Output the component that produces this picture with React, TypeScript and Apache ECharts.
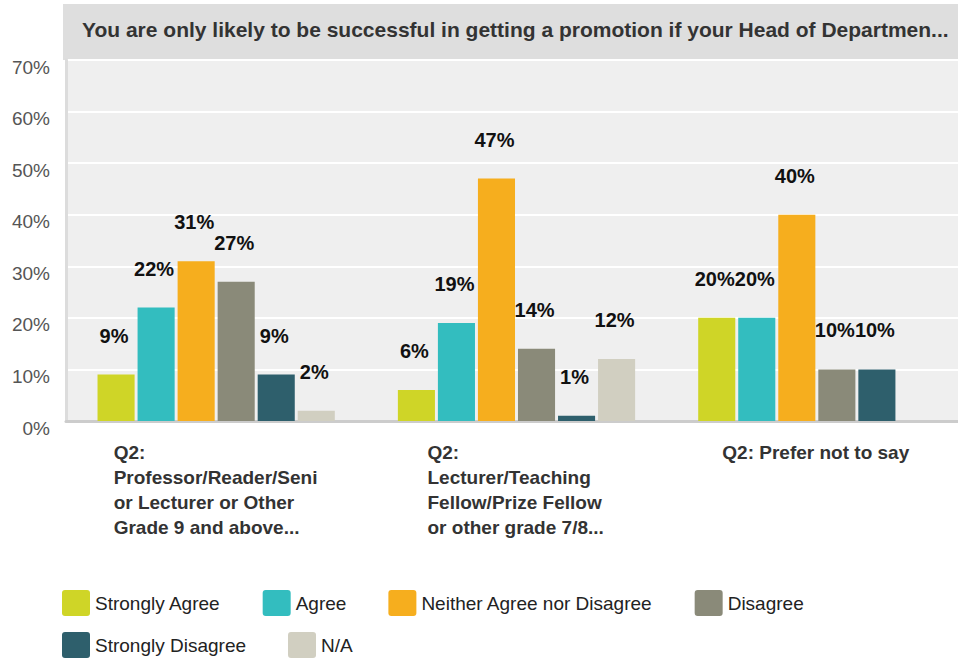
import React, { useEffect, useRef } from "react";
import * as echarts from "echarts";

const titleText =
  "You are only likely to be successful in getting a promotion if your Head of Departmen...";

const categories = [
  "Q2:\nProfessor/Reader/Seni\nor Lecturer or Other\nGrade 9 and above...",
  "Q2:\nLecturer/Teaching\nFellow/Prize Fellow\nor other grade 7/8...",
  "Q2: Prefer not to say",
];

const seriesNames = [
  "Strongly Agree",
  "Agree",
  "Neither Agree nor Disagree",
  "Disagree",
  "Strongly Disagree",
  "N/A",
];

const stronglyAgree = [9, 6, 20];
const agree = [22, 19, 20];
const neither = [31, 47, 40];
const disagree = [27, 14, 10];
const stronglyDisagree = [9, 1, 10];
const notApplicable: (number | null)[] = [2, 12, null];

const yTicks = { min: 0, max: 70, interval: 10 };

const colors = ["#cfd527", "#33bdbf", "#f6ae1e", "#8a8a79", "#2e5f6c", "#d1cfc1"];

const FONT = "'Liberation Sans', Arial, sans-serif";

export default function App() {
  const ref = useRef<HTMLDivElement>(null);

  useEffect(() => {
    if (!ref.current) return;
    const chart = echarts.init(ref.current, undefined, { renderer: "svg" });
    const values = [stronglyAgree, agree, neither, disagree, stronglyDisagree, notApplicable];
    const catWidths = [205, 178, 189];
    const rich: Record<string, any> = {};
    catWidths.forEach((w, i) => {
      rich["c" + i] = {
        width: w,
        align: "left",
        fontFamily: FONT,
        fontWeight: "bold",
        fontSize: 19,
        lineHeight: 25,
        color: "#333",
      };
    });
    const iconPath =
      "path://M3,0H25Q28,0,28,3V23Q28,26,25,26H3Q0,26,0,23V3Q0,0,3,0Z";
    const legendCommon = {
      left: 57,
      orient: "horizontal",
      itemWidth: 28,
      itemHeight: 26,
      itemGap: 42,
      icon: iconPath,
      textStyle: { fontFamily: FONT, fontSize: 19, color: "#222" },
    };

    chart.setOption({
      animation: false,
      backgroundColor: "#ffffff",
      color: colors,
      title: {
        text: titleText,
        left: 82,
        top: 19,
        padding: 0,
        textStyle: {
          fontFamily: FONT,
          fontWeight: "bold",
          fontSize: 21,
          color: "#333",
        },
      },
      graphic: [
        {
          type: "rect",
          z: -10,
          shape: { x: 63, y: 4, width: 895, height: 56 },
          style: { fill: "#dedede" },
          silent: true,
        },
      ],
      legend: [
        { ...legendCommon, top: 585, data: seriesNames.slice(0, 4) },
        { ...legendCommon, top: 627, data: seriesNames.slice(4) },
      ],
      grid: {
        left: 66,
        width: 901,
        top: 60,
        height: 361,
        show: true,
        backgroundColor: "#efefef",
        borderWidth: 0,
        containLabel: false,
        outerBoundsMode: "none",
      },
      xAxis: {
        type: "category",
        data: categories,
        axisLine: { show: true, lineStyle: { color: "#cccccc", width: 3 } },
        axisTick: { show: false },
        axisLabel: {
          interval: 0,
          margin: 19,
          verticalAlign: "top",
          formatter: (val: string, idx: number) =>
            val
              .split("\n")
              .map((l) => `{c${idx}|${l}}`)
              .join("\n"),
          rich,
        },
      },
      yAxis: {
        type: "value",
        min: yTicks.min,
        max: yTicks.max,
        interval: yTicks.interval,
        axisLine: { show: true, lineStyle: { color: "#dcdcdc", width: 3 } },
        axisTick: { show: false },
        splitLine: { show: true, lineStyle: { color: "#ffffff", width: 2 } },
        axisLabel: {
          formatter: "{value}%",
          fontFamily: FONT,
          fontSize: 19,
          color: "#555",
          margin: 16,
          verticalAlign: "top",
          lineHeight: 14,
        },
      },
      series: seriesNames.map((name, i) => ({
        name,
        type: "bar",
        data: values[i],
        barGap: "8%",
        barCategoryGap: "21%",
        label: {
          show: true,
          position: "top",
          distance: 29,
          offset: [-2, 0],
          formatter: "{c}%",
          fontFamily: FONT,
          fontWeight: "bold",
          fontSize: 20,
          color: "#111",
        },
      })),
    });

    return () => chart.dispose();
  }, []);

  return (
    <div
      ref={ref}
      style={{ position: "fixed", left: 0, top: 0, width: 958, height: 662 }}
    />
  );
}
